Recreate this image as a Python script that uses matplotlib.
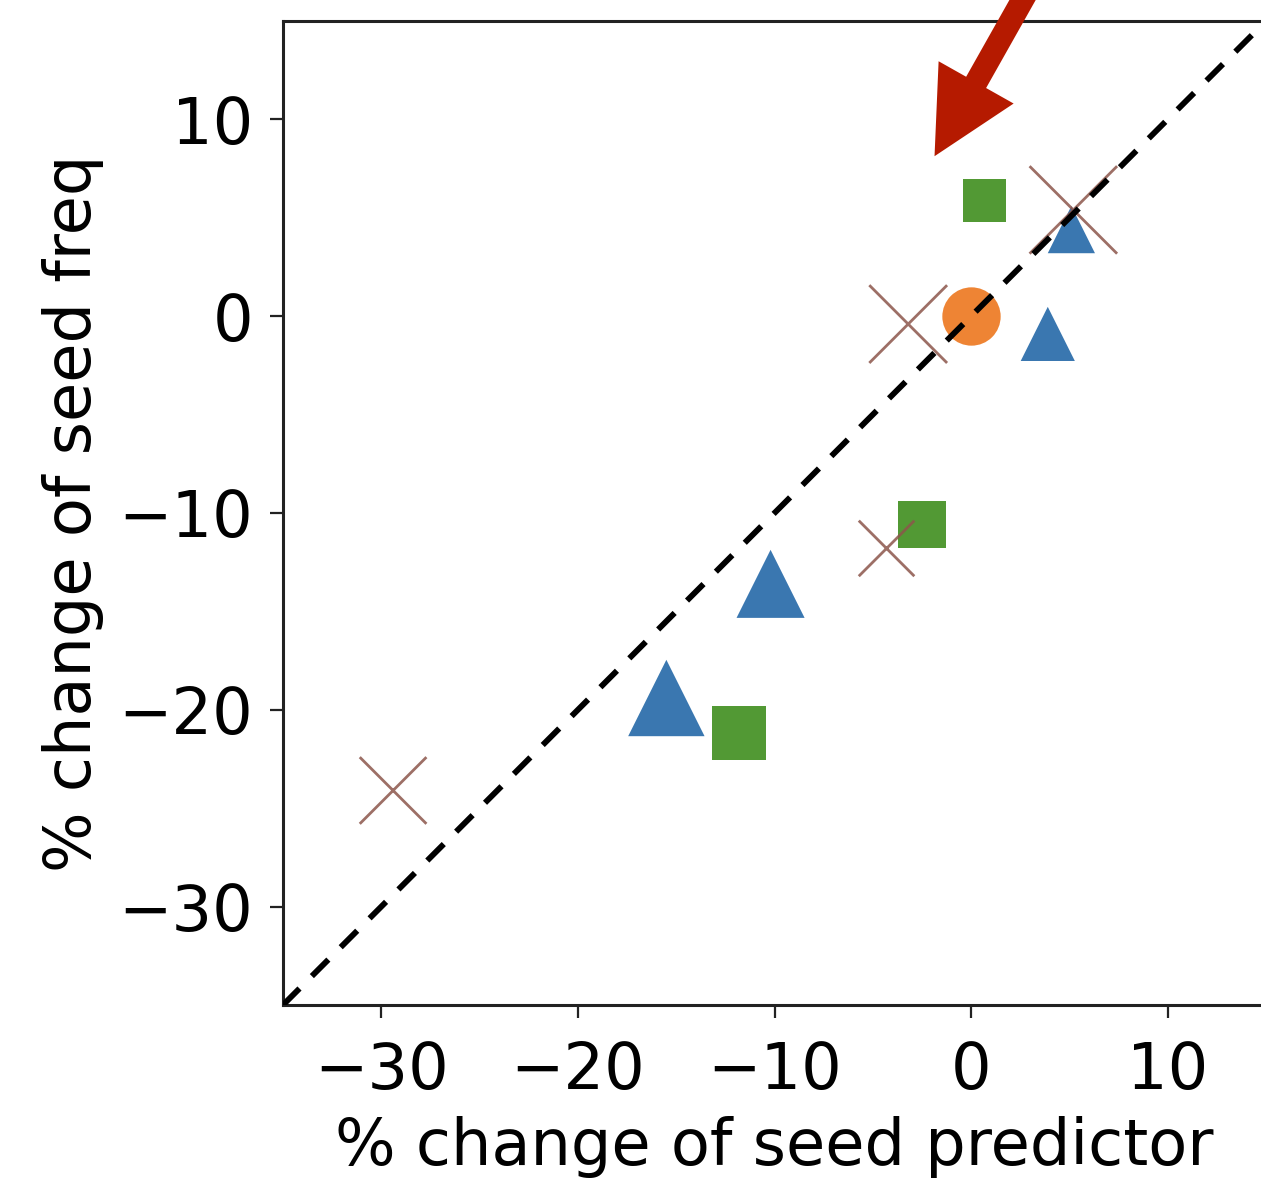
import matplotlib
matplotlib.use("Agg")
import matplotlib.pyplot as plt

# ---- data ----
tri_x = [5.1, 3.9, -10.2, -15.5]
tri_y = [4.4, -0.9, -13.6, -19.4]
tri_size = [34, 39, 49, 55]

sq_x = [0.7, -2.5, -11.8]
sq_y = [5.9, -10.6, -21.2]
sq_size = [31, 34, 39]

circ_x = [0.0]
circ_y = [0.0]
circ_size = [42]

x_x = [5.2, -3.2, -4.3, -29.4]
x_y = [5.4, -0.4, -11.8, -24.1]
x_size = [63, 56, 40, 48]

ticks = [-30, -20, -10, 0, 10]
lims = [-35, 15]
arrow_tip = (-1.86, 8.13)
arrow_tail = (5.4, 21.0)

FS = 46
W, H = 1261, 1178
fig = plt.figure(figsize=(W / 100, H / 100), dpi=100)
ax = fig.add_axes([283 / W, 1 - 1005 / H, 983 / W, 984 / H])

blue = "#3a77b0"
green = "#529934"
orange = "#ee8434"
brown = "#8c564b"

ax.scatter(tri_x, tri_y, s=[v ** 2 for v in tri_size], marker="^", color=blue, linewidths=0, zorder=2)
ax.scatter(sq_x, sq_y, s=[v ** 2 for v in sq_size], marker="s", color=green, linewidths=0, zorder=2)
ax.scatter(circ_x, circ_y, s=[v ** 2 for v in circ_size], marker="o", color=orange, linewidths=0, zorder=2)
ax.scatter(x_x, x_y, s=[v ** 2 for v in x_size], marker="x", color=brown, alpha=0.85, linewidths=2.0, zorder=3)

ax.plot(lims, lims, color="black", linestyle=(0, (4, 3)), linewidth=4.2, zorder=5)

ax.set_xlim(lims)
ax.set_ylim(lims)
ax.set_xticks(ticks)
ax.set_yticks(ticks)
ax.tick_params(axis="both", labelsize=FS, length=9.5, width=1.6, color="#222222", pad=12)
ax.tick_params(axis="x", pad=16)
for sp in ax.spines.values():
    sp.set_linewidth(2.2)
    sp.set_color("#222222")

ax.set_xlabel("% change of seed predictor", fontsize=FS, labelpad=10)
ax.set_ylabel("% change of seed freq", fontsize=FS, labelpad=10)

ax.annotate("", xy=arrow_tip, xytext=arrow_tail, xycoords="data", textcoords="data",
            annotation_clip=False,
            arrowprops=dict(facecolor="#b51a00", edgecolor="none", width=16.5,
                            headwidth=62, headlength=61, shrink=0))

fig.savefig("out.png", dpi=100)
